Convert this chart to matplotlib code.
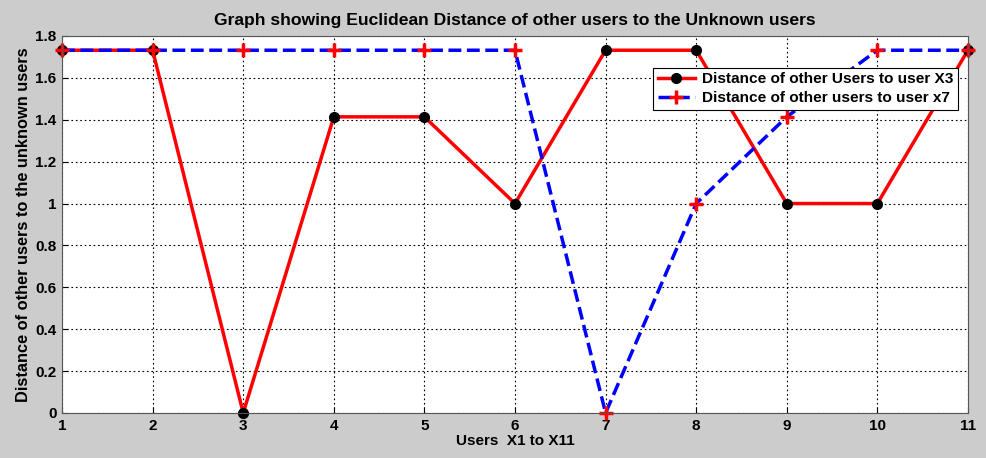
import matplotlib
matplotlib.use("Agg")
import matplotlib.pyplot as plt

users = [1, 2, 3, 4, 5, 6, 7, 8, 9, 10, 11]
dist_x3 = [1.732, 1.732, 0, 1.414, 1.414, 1, 1.732, 1.732, 1, 1, 1.732]
dist_x7 = [1.732, 1.732, 1.732, 1.732, 1.732, 1.732, 0, 1, 1.414, 1.732, 1.732]
yticks = [0, 0.2, 0.4, 0.6, 0.8, 1, 1.2, 1.4, 1.6, 1.8]
ytick_labels = ["0", "0.2", "0.4", "0.6", "0.8", "1", "1.2", "1.4", "1.6", "1.8"]

plt.rcParams["font.family"] = ["Liberation Sans", "DejaVu Sans"]
plt.rcParams["font.weight"] = "bold"

fig = plt.figure(figsize=(9.86, 4.58), dpi=100, facecolor="#cccccc")
ax = fig.add_axes([0.0629, 0.0983, 0.9188, 0.8231])
ax.set_facecolor("white")

ax.plot(users, dist_x3, "-", color="red", lw=2.5, marker="o", mfc="black",
        mec="black", ms=7, clip_on=False, label="Distance of other Users to user X3")
ax.plot(users, dist_x7, "--", color="blue", lw=2.5, marker="+", mfc="red",
        mec="red", ms=10, mew=2.5, clip_on=False,
        label="Distance of other users to user x7")

ax.set_xlim(1, 11)
ax.set_ylim(0, 1.8)
ax.set_xticks(users)
ax.set_yticks(yticks)
ax.set_yticklabels(ytick_labels)
ax.grid(True, color="black", linestyle=(0, (1.5, 2.5)), lw=0.8)
ax.tick_params(labelsize=11, direction="in", length=4, pad=4)
for s in ax.spines.values():
    s.set_color("#555555")
    s.set_linewidth(0.8)

ax.set_title("Graph showing Euclidean Distance of other users to the Unknown users",
             fontsize=12.6, fontweight="bold", pad=8)
ax.set_xlabel("Users  X1 to X11", fontsize=11, fontweight="bold", labelpad=1)
ax.set_ylabel("Distance of other users to the unknown users", fontsize=11.8,
              fontweight="bold", labelpad=3)

leg = ax.legend(loc="upper right", bbox_to_anchor=(0.998, 0.936), fontsize=11.1,
                fancybox=False, framealpha=1, edgecolor="black",
                borderpad=0.3, handlelength=2.4, handletextpad=0.5,
                labelspacing=0.3)
leg.get_frame().set_linewidth(0.8)

fig.savefig("out.png", dpi=100, facecolor=fig.get_facecolor())
